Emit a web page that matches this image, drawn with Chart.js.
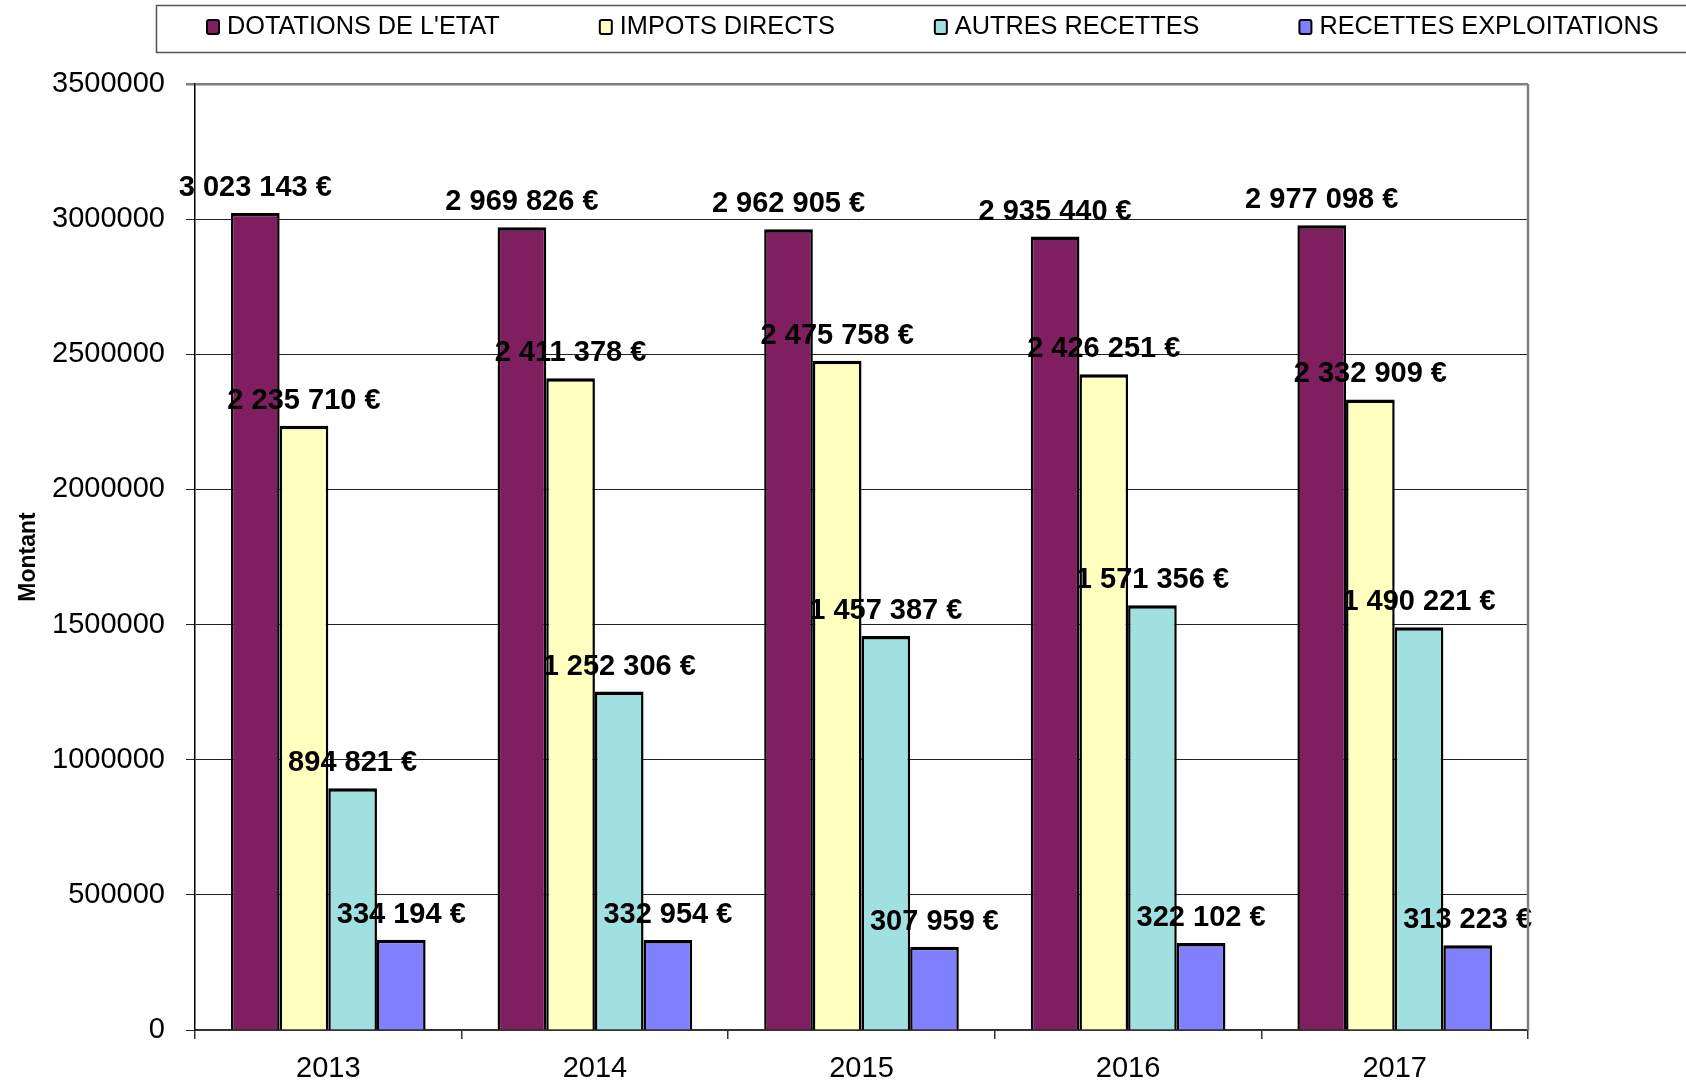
<!DOCTYPE html>
<html>
<head>
<meta charset="utf-8">
<script src="https://cdn.jsdelivr.net/npm/chart.js@4"></script>
<style>
  body { margin: 0; background: #fff; }
  canvas { display: block; }
</style>
</head>
<body>
<canvas id="recettes" width="1686" height="1084"></canvas>
<script>
const years = ['2013', '2014', '2015', '2016', '2017'];
const seriesNames = ['DOTATIONS DE L\'ETAT', 'IMPOTS DIRECTS', 'AUTRES RECETTES', 'RECETTES EXPLOITATIONS'];
const dotations = [3023143, 2969826, 2962905, 2935440, 2977098];
const impots = [2235710, 2411378, 2475758, 2426251, 2332909];
const autres = [894821, 1252306, 1457387, 1571356, 1490221];
const exploitations = [334194, 332954, 307959, 322102, 313223];
const yTicks = [0, 500000, 1000000, 1500000, 2000000, 2500000, 3000000, 3500000];
const colors = ['#7F1F5F', '#FFFFC0', '#A0E0E0', '#8080FF'];

const FONT = "'Liberation Sans', Arial, sans-serif";

// "3023143" -> "3 023 143 €"
const euros = (v) => String(v).replace(/\B(?=(\d{3})+(?!\d))/g, ' ') + ' €';

// value labels floating above each bar
const barLabels = {
  id: 'barLabels',
  afterDatasetsDraw(chart) {
    const ctx = chart.ctx;
    ctx.save();
    ctx.font = 'bold 29px ' + FONT;
    ctx.fillStyle = '#000';
    ctx.textAlign = 'center';
    ctx.textBaseline = 'middle';
    chart.data.datasets.forEach((ds, i) => {
      chart.getDatasetMeta(i).data.forEach((bar, j) => {
        ctx.fillText(euros(ds.data[j]), bar.x, bar.y - 25);
      });
    });
    ctx.restore();
  },
};

// grey frame on the right of the plot, plus the boxed legend row on top
const frame = {
  id: 'frame',
  afterDraw(chart) {
    const ctx = chart.ctx;
    const a = chart.chartArea;
    ctx.save();
    ctx.strokeStyle = '#808080';
    ctx.lineWidth = 2.5;
    ctx.beginPath();
    ctx.moveTo(a.right, a.top);
    ctx.lineTo(a.right, a.bottom);
    ctx.stroke();

    ctx.strokeStyle = '#555';
    ctx.lineWidth = 1.5;
    ctx.strokeRect(156.5, 5.5, chart.width, 47);

    ctx.font = '25.3px ' + FONT;
    ctx.textBaseline = 'middle';
    let x = 207;
    const y = 27;
    chart.data.datasets.forEach((ds) => {
      ctx.fillStyle = ds.backgroundColor;
      ctx.strokeStyle = '#000';
      ctx.lineWidth = 2;
      ctx.beginPath();
      ctx.roundRect(x, y - 7, 12, 14, 2);
      ctx.fill();
      ctx.stroke();
      ctx.fillStyle = '#000';
      ctx.fillText(ds.label, x + 20, y);
      x += 20 + ctx.measureText(ds.label).width + 100;
    });
    ctx.restore();
  },
};

new Chart(document.getElementById('recettes'), {
  type: 'bar',
  data: {
    labels: years,
    datasets: [dotations, impots, autres, exploitations].map((data, i) => ({
      label: seriesNames[i],
      data,
      backgroundColor: colors[i],
      borderColor: '#000',
      borderWidth: { top: 3.5, left: 2.5, right: 2.5, bottom: 1 },
      categoryPercentage: 0.73,
      barPercentage: 1,
    })),
  },
  options: {
    responsive: false,
    animation: false,
    layout: { padding: { top: 84, right: 158, left: 0, bottom: 0 } },
    plugins: {
      legend: { display: false },
      tooltip: { enabled: false },
    },
    scales: {
      x: {
        afterFit: (scale) => { scale.height = 54; },
        grid: { offset: true, drawOnChartArea: false, tickLength: 9, color: '#333', lineWidth: 1.5 },
        border: { color: '#333', width: 2 },
        ticks: { color: '#000', padding: 13, font: { family: FONT, size: 29 } },
      },
      y: {
        min: 0,
        max: 3500000,
        afterBuildTicks: (scale) => { scale.ticks = yTicks.map((value) => ({ value })); },
        afterFit: (scale) => { scale.width = 195; },
        grid: {
          tickLength: 9,
          color: (c) => (c.tick && c.tick.value === 3500000 ? '#808080' : '#222'),
          lineWidth: (c) => (c.tick && c.tick.value === 3500000 ? 2.5 : 1),
        },
        border: { color: '#000', width: 1.5 },
        ticks: {
          color: '#000',
          padding: 21,
          font: { family: FONT, size: 29 },
          callback: (v) => String(v),
        },
        title: {
          display: true,
          text: 'Montant',
          color: '#000',
          padding: { top: 15, bottom: 0 },
          font: { family: FONT, size: 23, weight: 'bold' },
        },
      },
    },
  },
  plugins: [barLabels, frame],
});
</script>
</body>
</html>
